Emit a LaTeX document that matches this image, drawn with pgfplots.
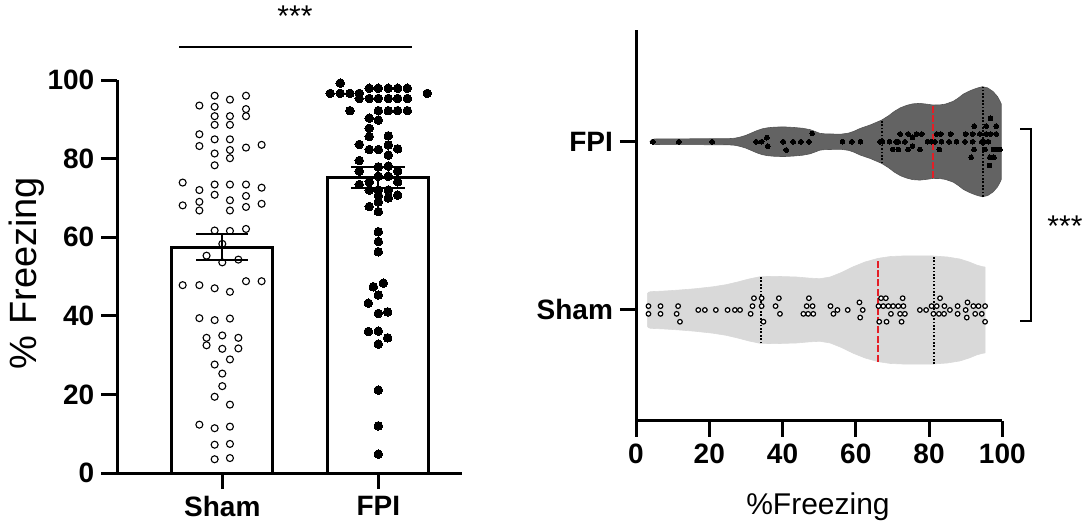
\documentclass[border=0pt]{standalone}
\usepackage{pgfplots}
\pgfplotsset{compat=1.18}
\usepackage{fontspec}
\setmainfont{Liberation Sans}
\definecolor{fpiviolin}{RGB}{99,99,99}
\definecolor{shamviolin}{RGB}{217,217,217}
\definecolor{medred}{RGB}{228,30,38}
\begin{document}
\begin{tikzpicture}
\useasboundingbox (0,0) rectangle (542pt,-262.5pt);
\pgfplotsset{
  myaxis/.style={
    scale only axis, clip=false,
    axis line style={line width=1.5pt, black},
    every tick/.style={line width=1.5pt, black},
    tick align=outside, major tick length=8pt,
    tick label style={font=\fontsize{14}{14}\selectfont\bfseries},
    /pgf/number format/assume math mode=true,
    axis x line*=bottom, axis y line*=left,
  },
  qdot/.style={black, mark=none, line width=1pt, dash pattern=on 0.85pt off 0.85pt},
  qmed/.style={medred, mark=none, line width=1pt, dash pattern=on 3.5pt off 1.2pt},
}
% ---------------- left panel ----------------
\begin{axis}[myaxis, at={(58.65pt,-236.5pt)}, anchor=south west,
  width=172.4pt, height=196.5pt,
  xmin=-0.673, xmax=1.537, ymin=0, ymax=100,
  xtick={0,1}, xticklabels={Sham,FPI}, ytick={0,20,40,60,80,100}]
\addplot[ybar, bar width=0.647, fill=white, draw=black, line width=1.5pt] coordinates {(0,57.5) (1,75.2)};
\addplot[only marks, mark=o, mark size=1.75pt, mark options={line width=0.55pt, black}] coordinates {
(-0.049,96.0) (0.152,96.0) (0.049,95.0)
(-0.147,93.5) (-0.049,93.2) (0.152,92.6)
(-0.049,90.8) (0.049,90.8) (0.152,90.8)
(-0.049,88.6) (0.049,88.6)
(-0.147,86.2) (-0.049,84.9) (0.049,84.9)
(-0.147,83.2) (0.152,82.8) (0.252,83.5)
(-0.049,81.3) (0.049,82.2) (0.049,80.1)
(-0.049,78.3)
(-0.254,73.9)
(-0.147,72.0) (-0.049,73.4) (-0.049,70.8) (0.049,73.4) (0.152,73.4) (0.252,72.6)
(0.049,69.4) (0.152,70.5) (0.152,67.7) (0.252,68.5)
(-0.254,68.1) (-0.147,69.0) (-0.147,66.8) (0.049,66.8)
(-0.049,61.7) (0.049,61.6) (0.152,62.1)
(0,58.3)
(-0.101,55.3) (0,53.6) (0.103,54.3)
(-0.254,47.8) (-0.147,47.8) (-0.049,47.0) (0.049,46.1) (0.152,48.8) (0.252,48.8)
(-0.147,39.4) (-0.049,38.9) (0.049,39.3)
(-0.101,34.4) (-0.101,32.5) (0,35.0) (0,31.6) (0.103,34.4) (0.103,31.7)
(0.049,28.9) (-0.049,27.6)
(0,25.3) (0,22.1)
(-0.049,19.4) (0.049,17.4)
(-0.147,12.3) (-0.049,11.4) (0.049,11.8)
(-0.049,7.2) (0.049,7.4)
(-0.049,3.5) (0.049,3.8)
};
\addplot[only marks, mark=*, mark size=2.15pt, mark options={draw=black, fill=black, line width=0pt}] coordinates {
(0.756,99.2)
(0.942,97.9) (1,97.9) (1.064,97.9) (1.124,97.9) (1.186,97.9)
(0.692,96.6) (0.756,96.6) (0.818,96.6) (0.878,96.6) (1.314,96.6)
(0.878,95.3) (0.942,95.3) (1,95.3) (1.064,95.3) (1.124,95.3) (1.186,95.3)
(0.818,92.2) (1,92.2) (1.064,92.2) (1.124,92.2) (1.186,92.2)
(0.942,90.3) (1,89.8)
(0.942,87.7)
(0.942,85.6) (1.064,85.8)
(0.878,83.6) (1.064,83.5)
(0.942,82.3) (1,82.3) (1.124,82.5)
(1.064,80.9)
(0.878,79.5)
(1,77.9) (1.064,78.1)
(0.878,76.8) (1.124,76.8)
(1,75.5) (1.064,75.5)
(0.942,74.1) (1.124,74.1)
(0.878,73.4)
(0.942,72.0) (1,72.0) (1.064,72.0)
(1,70.6) (1.124,70.7)
(1.064,70.0)
(1,69.0)
(0.942,67.8)
(1,66.5)
(1,61.4) (1,58.9) (1,56.3)
(0.968,47.4) (1.032,48.3) (1,45.3) (0.936,43.2) (1,40.6) (1.06,41.0)
(0.936,36.0) (1,36.1) (1.06,34.4) (1,32.8) (1,21.1) (1,12.0) (1,4.8)
};
\addplot[black, mark=none, line width=1pt] coordinates {(0,54.2) (0,60.8)};
\addplot[black, mark=none, line width=1pt] coordinates {(-0.167,54.2) (0.167,54.2)};
\addplot[black, mark=none, line width=1pt] coordinates {(-0.167,60.8) (0.167,60.8)};
\addplot[black, mark=none, line width=1pt] coordinates {(1,72.5) (1,77.9)};
\addplot[black, mark=none, line width=1pt] coordinates {(0.827,72.5) (1.173,72.5)};
\addplot[black, mark=none, line width=1pt] coordinates {(0.827,77.9) (1.173,77.9)};
\draw[line width=1.5pt] (axis cs:-0.773,0) -- (axis cs:-0.673,0);
\end{axis}
% ---------------- right panel ----------------
\begin{axis}[myaxis, at={(318pt,-210.35pt)}, anchor=south west,
  width=183.15pt, height=195.35pt,
  xmin=0, xmax=100, ymin=-0.658, ymax=1.664,
  xtick={0,20,40,60,80,100}, ytick={0,1}, yticklabels={Sham,FPI}]
% FPI violin
\addplot[fill=fpiviolin, draw=fpiviolin!85!black, line width=0.3pt] coordinates {
(3.8,1) (4.3,1.012) (5,1.016) (7,1.017) (25,1.018) (27,1.021) (28.5,1.028) (30,1.038) (31.5,1.052) (33,1.066) (34.5,1.077) (36,1.083) (38,1.087) (40.5,1.088) (43,1.085) (45.5,1.080) (47.5,1.072) (49,1.060) (50.2,1.050) (51.5,1.047) (53,1.046) (56,1.045) (58,1.051) (59.5,1.062) (61.2,1.079) (64,1.100) (67.1,1.129) (69,1.155) (70.5,1.180) (72.2,1.202) (73.9,1.216) (75.5,1.225) (77.5,1.228) (79.5,1.223) (81.1,1.218) (83,1.219) (84.5,1.224) (86.6,1.240) (88,1.260) (89.3,1.282) (90.7,1.298) (92,1.310) (93.3,1.320) (94.6,1.327) (96,1.320) (97.5,1.298) (98.7,1.268) (99.4,1.240) (99.7,1.225)
(99.7,0.775) (99.4,0.760) (98.7,0.732) (97.5,0.702) (96,0.680) (94.6,0.673) (93.3,0.680) (92,0.690) (90.7,0.702) (89.3,0.718) (88,0.740) (86.6,0.760) (84.5,0.776) (83,0.781) (81.1,0.782) (79.5,0.777) (77.5,0.772) (75.5,0.775) (73.9,0.784) (72.2,0.798) (70.5,0.820) (69,0.845) (67.1,0.871) (64,0.900) (61.2,0.921) (59.5,0.938) (58,0.949) (56,0.955) (53,0.954) (51.5,0.953) (50.2,0.950) (49,0.940) (47.5,0.928) (45.5,0.920) (43,0.915) (40.5,0.912) (38,0.913) (36,0.917) (34.5,0.923) (33,0.934) (31.5,0.948) (30,0.962) (28.5,0.972) (27,0.979) (25,0.982) (7,0.983) (5,0.984) (4.3,0.988)
} -- cycle;
% Sham violin
\addplot[fill=shamviolin, draw=shamviolin, line width=0.3pt] coordinates {
(3.1,0.095) (3.4,0.105) (4,0.109) (8,0.113) (12,0.119) (16,0.126) (21,0.138) (24.5,0.150) (27.5,0.165) (31,0.185) (33.9,0.198) (38,0.200) (43.9,0.196) (47,0.190) (50.2,0.186) (53,0.196) (56,0.222) (59.3,0.257) (62.5,0.285) (66.1,0.307) (69.5,0.318) (72.9,0.321) (77,0.322) (81.1,0.321) (85,0.315) (88.4,0.303) (91,0.285) (93,0.267) (94.5,0.258) (95.3,0.255)
(95.3,-0.255) (94.5,-0.258) (93,-0.267) (91,-0.285) (88.4,-0.303) (85,-0.315) (81.1,-0.321) (77,-0.322) (72.9,-0.321) (69.5,-0.318) (66.1,-0.307) (62.5,-0.285) (59.3,-0.257) (56,-0.222) (53,-0.196) (50.2,-0.186) (47,-0.190) (43.9,-0.196) (38,-0.200) (33.9,-0.198) (31,-0.185) (27.5,-0.165) (24.5,-0.150) (21,-0.138) (16,-0.126) (12,-0.119) (8,-0.113) (4,-0.109) (3.4,-0.105) (3.1,-0.095)
} -- cycle;
% quartile lines
\addplot[qdot] coordinates {(67.1,0.871) (67.1,1.129)};
\addplot[qdot] coordinates {(94.6,0.673) (94.6,1.327)};
\addplot[qmed] coordinates {(81.0,0.782) (81.0,1.218)};
\addplot[qdot] coordinates {(34.1,-0.198) (34.1,0.198)};
\addplot[qdot] coordinates {(81.4,-0.321) (81.4,0.321)};
\addplot[qmed] coordinates {(66.1,-0.307) (66.1,0.307)};
% FPI dots
\addplot[only marks, mark=*, mark size=1.2pt, mark options={draw=black, fill=black, line width=0pt}] coordinates {
(4.6,1) (11.7,1) (20.8,1) (32.8,1) (34.3,1) (35.7,1.024) (36.0,0.974) (40.2,1) (41.0,0.951) (42.9,1) (45.0,1) (47.2,1) (48.1,1.049)
(56.4,1) (58.9,1) (61.3,1) (66.6,1) (67.3,1) (69.2,1) (71.0,1) (71.6,1) (73.4,1) (79.6,1) (80.7,1) (81.6,1) (83.4,1) (85.5,1) (87.5,1) (89.8,1) (91.9,1) (94.4,1) (95.0,1) (96.2,1)
(72.1,1.046) (74.3,1.046) (76.6,1.046) (78.0,1.046) (82.1,1.046) (83.2,1.046) (85.9,1.046) (90.0,1.046) (91.9,1.046) (93.9,1.046) (95.6,1.046) (96.8,1.046) (98.3,1.046)
(70.1,0.954) (71.6,0.954) (74.3,0.954) (77.5,0.954) (82.8,0.954) (92.3,0.954) (95.3,0.954) (97.6,0.954) (98.5,0.954) (99.4,0.954)
(92.3,1.093) (95.6,1.093) (98.3,1.093) (96.8,1.139)
(75.5,1.026) (75.5,0.974)
(91.5,0.907) (96.6,0.907) (97.7,0.907) (96.5,0.859)
};
% Sham dots
\addplot[only marks, mark=*, mark size=1.15pt, mark options={draw=black, fill=white, line width=0.6pt}] coordinates {
(3.4,0.023) (3.4,-0.023) (6.7,0.023) (6.7,-0.023) (11.5,0.023) (11.1,-0.023) (12.0,-0.07)
(17.0,0) (18.8,0) (21.8,0) (25.0,0) (27.0,0) (28.4,0)
(31.3,-0.023) (31.8,0.023) (32.2,0.07) (34.3,0.07) (34.3,0.023) (34.8,-0.07)
(38.1,0.023) (39.0,0.07) (39.3,-0.023)
(45.7,-0.023) (47.0,-0.023) (48.4,-0.023) (46.6,0.023) (48.2,0.023) (47.2,0.07)
(53.1,0.023) (53.9,-0.023) (55.0,0) (57.8,0) (61.0,0.045) (61.9,0) (61.2,-0.045)
(66.9,0.07) (68.2,0.07) (72.8,0.07)
(66.2,0.023) (67.5,0.023) (68.9,0.023) (70.2,0.023) (71.6,0.023) (73.0,0.023)
(69.6,-0.023) (72.1,-0.023) (73.4,-0.023)
(66.4,-0.07) (68.4,-0.07) (72.5,-0.07)
(77.5,0) (79.2,0) (80.7,0.023) (82.1,0.023) (83.0,0.07) (81.2,-0.023) (82.7,-0.023) (84.1,-0.023) (84.2,0.023)
(85.7,0) (87.8,0.023) (87.8,-0.023) (90.0,0) (90.5,0.045) (90.3,-0.045)
(92.1,0.023) (93.5,0.023) (92.6,-0.023) (94.4,-0.023) (95.3,0.023) (95.3,-0.07)
};
\end{axis}
% ---------------- annotations ----------------
\node[rotate=90, anchor=base, font=\fontsize{19}{19}\selectfont, inner sep=0pt] at (18.5pt,-136.5pt) {\% Freezing};
\node[anchor=base, font=\fontsize{15}{15}\selectfont, inner sep=0pt] at (409pt,-257pt) {\%Freezing};
\node[anchor=base, font=\fontsize{15}{15}\selectfont, inner sep=0pt] at (147.5pt,-13pt) {***};
\node[anchor=base, font=\fontsize{15}{15}\selectfont, inner sep=0pt] at (532.5pt,-118pt) {***};
\draw[line width=1.2pt] (89.5pt,-23.35pt) -- (206pt,-23.35pt);
\draw[line width=1.1pt] (510pt,-64.5pt) -- (515.5pt,-64.5pt) -- (515.5pt,-160.5pt) -- (510pt,-160.5pt);
\end{tikzpicture}
\end{document}
